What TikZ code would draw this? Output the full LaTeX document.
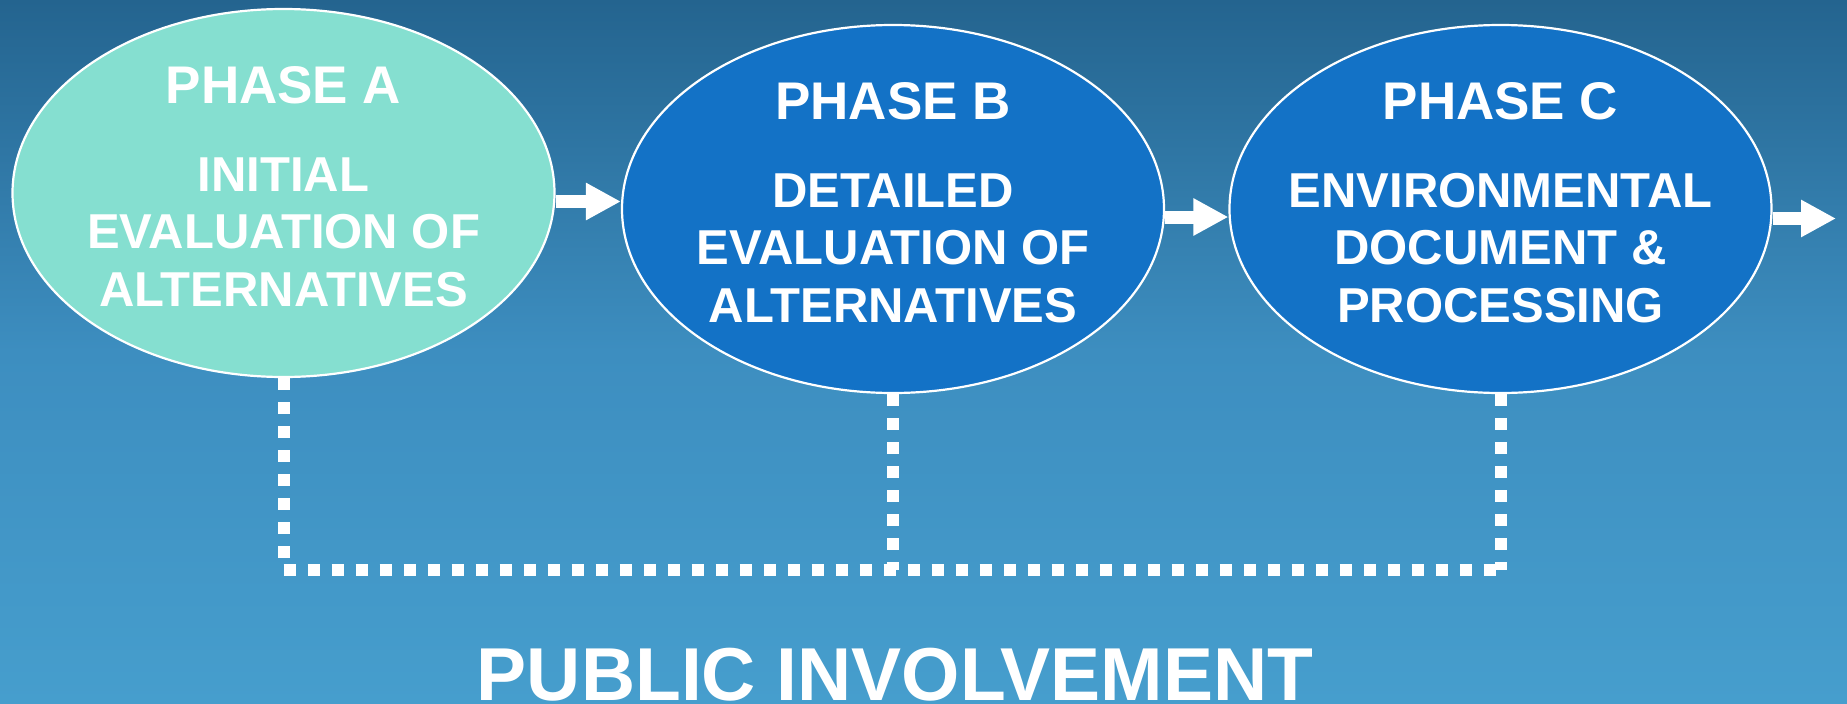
\documentclass[tikz,border=0pt]{standalone}
\usepackage{fontspec}
\setmainfont{Liberation Sans}
\usetikzlibrary{shapes.geometric,arrows.meta,calc}
\definecolor{bgtop}{HTML}{24648F}
\definecolor{bgmid}{HTML}{3D8EC0}
\definecolor{bgbot}{HTML}{469ECD}
\definecolor{phaseA}{HTML}{85DFD0}
\definecolor{phaseBC}{HTML}{1372C6}
\tikzset{
  phase/.style={ellipse, draw=white, line width=2.2pt, minimum width=542pt, minimum height=368pt, inner sep=0pt},
  title/.style={text=white, font=\fontsize{53}{60}\selectfont\bfseries, anchor=base, inner sep=0pt},
  body/.style={text=white, font=\fontsize{49}{57}\selectfont\bfseries, anchor=base, inner sep=0pt},
  flow/.style={white, line width=13pt, -{Triangle[width=35pt,length=35pt]}},
  pub/.style={white, line width=12pt, dash pattern=on 12pt off 12pt},
  bigtext/.style={text=white, font=\fontsize{75}{80}\selectfont\bfseries, anchor=base, inner sep=0pt},
}
\begin{document}
\begin{tikzpicture}[x=1pt,y=-1pt]
\shade[top color=bgtop, bottom color=bgbot, middle color=bgmid] (0,0) rectangle (1847,704);
\useasboundingbox (0,0) rectangle (1847,704);

% ellipses
\node[phase, fill=phaseA]  (A) at (283.5,193) {};
\node[phase, fill=phaseBC] (B) at (893,209) {};
\node[phase, fill=phaseBC] (C) at (1500.5,209) {};

% texts
\node[title] (tA) at ($(A.center)+(0,-90)$) {PHASE A};
\node[body] (a1) at ($(A.center)+(0,-1.5)$) {INITIAL};
\node[body] (a2) at ($(A.center)+(0,55.5)$) {EVALUATION OF};
\node[body] (a3) at ($(A.center)+(0,113.5)$) {ALTERNATIVES};

\node[title] (tB) at ($(B.center)+(0,-90)$) {PHASE B};
\node[body] (b1) at ($(B.center)+(0,-1.5)$) {DETAILED};
\node[body] (b2) at ($(B.center)+(0,55.5)$) {EVALUATION OF};
\node[body] (b3) at ($(B.center)+(0,113.5)$) {ALTERNATIVES};

\node[title] (tC) at ($(C.center)+(0,-90)$) {PHASE C};
\node[body] (c1) at ($(C.center)+(0,-1.5)$) {ENVIRONMENTAL};
\node[body] (c2) at ($(C.center)+(0,55.5)$) {DOCUMENT \&};
\node[body] (c3) at ($(C.center)+(0,113.5)$) {PROCESSING};

% flow arrows
\coordinate (ab) at (0,201.5);
\coordinate (bc) at (0,217);
\coordinate (out) at (1836,218.5);
\draw[flow] (A.east |- ab) -- (B.west |- ab);
\draw[flow] (B.east |- bc) -- (C.west |- bc);
\draw[flow] (C.east |- out) -- (out);

% public involvement dotted lines
\coordinate (h) at (0,570);
\draw[pub] (A.south) -- (A.south |- h);
\draw[pub] (B.south) -- (B.south |- h);
\draw[pub] (C.south) -- (C.south |- h);
\draw[pub] (A.south |- h) -- (C.south |- h);

\node[bigtext] (pi) at (895,700) {PUBLIC INVOLVEMENT};
\end{tikzpicture}
\end{document}
